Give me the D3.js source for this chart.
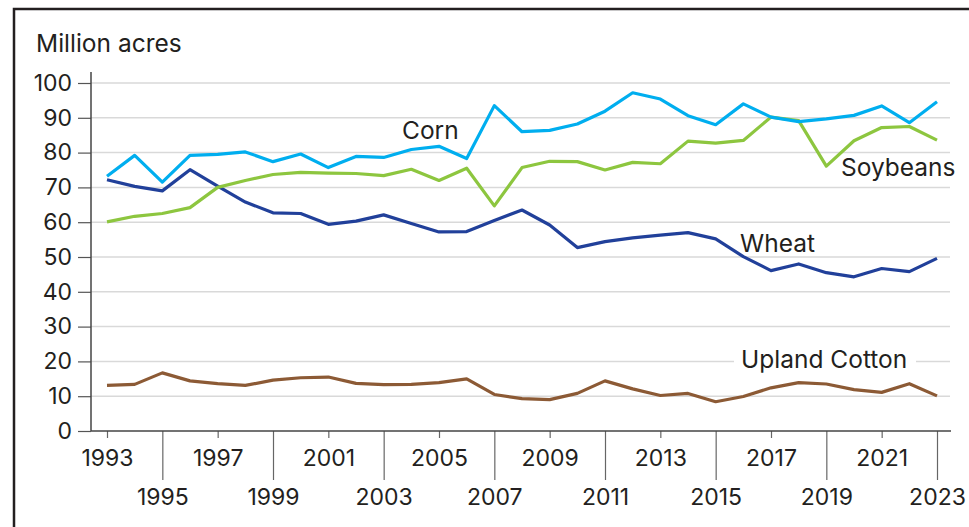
<!DOCTYPE html>
<head>
    <meta charset="utf-8">
    <style>
        body { margin: 0; background: #fff; }
        text { font-family: "Inter", "Roboto", sans-serif; fill: #231f20; }
    </style>
</head>
<body>
    <script src="https://d3js.org/d3.v7.min.js"></script>
    <script>

        // data (million acres planted)
        var years = d3.range(1993, 2024);
        var corn = [73.2, 79.2, 71.5, 79.2, 79.5, 80.2, 77.4, 79.6, 75.7, 78.9, 78.6, 80.9, 81.8, 78.3, 93.5, 86.0,
                    86.4, 88.2, 91.9, 97.2, 95.4, 90.6, 88.0, 94.0, 90.2, 88.9, 89.7, 90.7, 93.4, 88.6, 94.6];
        var soybeans = [60.1, 61.7, 62.5, 64.2, 70.0, 72.0, 73.7, 74.3, 74.1, 74.0, 73.4, 75.2, 72.0, 75.5, 64.7, 75.7,
                    77.5, 77.4, 75.0, 77.2, 76.8, 83.3, 82.7, 83.5, 90.2, 89.2, 76.1, 83.4, 87.2, 87.5, 83.6];
        var wheat = [72.2, 70.3, 69.0, 75.1, 70.4, 65.8, 62.7, 62.5, 59.4, 60.3, 62.1, 59.6, 57.2, 57.3, 60.5, 63.5,
                    59.2, 52.7, 54.4, 55.5, 56.3, 57.0, 55.2, 50.1, 46.1, 48.0, 45.5, 44.3, 46.7, 45.8, 49.6];
        var cotton = [13.1, 13.4, 16.7, 14.4, 13.6, 13.1, 14.6, 15.3, 15.5, 13.7, 13.3, 13.4, 13.9, 15.0, 10.5, 9.3,
                    9.0, 10.8, 14.4, 12.1, 10.2, 10.8, 8.4, 9.9, 12.4, 13.9, 13.5, 11.9, 11.1, 13.6, 10.1];
        var yTicks = [0, 10, 20, 30, 40, 50, 60, 70, 80, 90, 100];
        var xTicks = d3.range(1993, 2024, 2);

        var width = 969, height = 527;
        var left = 91, right = 951, bottom = 431;

        var x = d3.scaleLinear().domain([1993, 2023]).range([107, 937]);
        var y = d3.scaleLinear().domain([0, 100]).range([431, 83]);

        var svg = d3.select("body").append("svg")
            .attr("width", width)
            .attr("height", height);

        // frame (top and left edges)
        svg.append("path")
            .attr("d", "M14,527V9H969")
            .attr("fill", "none")
            .attr("stroke", "#231f20")
            .attr("stroke-width", 2.5);

        // gridlines
        svg.append("g")
            .selectAll("line")
            .data(yTicks.filter(function(d) { return d > 0; }))
            .enter().append("line")
            .attr("x1", left)
            .attr("x2", right - 1)
            .attr("y1", function(d) { return y(d); })
            .attr("y2", function(d) { return y(d); })
            .attr("stroke", "#d9d9d9")
            .attr("stroke-width", 1.5);

        // y axis
        var yAxis = svg.append("g")
            .attr("transform", "translate(" + left + ",0)")
            .call(d3.axisLeft(y).tickValues(yTicks).tickSize(13).tickSizeOuter(0).tickPadding(6));
        yAxis.select(".domain").remove();
        yAxis.selectAll(".tick line").attr("stroke", "#555").attr("stroke-width", 1.2);
        yAxis.selectAll("text").style("font-size", "23px").attr("fill", "#231f20");
        svg.append("line")
            .attr("x1", left).attr("x2", left)
            .attr("y1", 72).attr("y2", bottom)
            .attr("stroke", "#444").attr("stroke-width", 1.5);

        // x axis
        var xAxis = svg.append("g")
            .attr("transform", "translate(0," + bottom + ")")
            .call(d3.axisBottom(x).tickValues(xTicks).tickFormat(d3.format("d")).tickSize(7).tickSizeOuter(0));
        xAxis.select(".domain").remove();
        xAxis.selectAll(".tick line").attr("stroke", "#666").attr("stroke-width", 1.2);
        xAxis.selectAll(".tick")
            .filter(function(d) { return (d - 1993) % 4 === 2; })
            .select("line").attr("y2", 49);
        xAxis.selectAll("text")
            .style("font-size", "23px")
            .attr("fill", "#231f20")
            .attr("dy", null)
            .attr("y", function(d) { return (d - 1993) % 4 === 2 ? 74 : 35; });
        svg.append("line")
            .attr("x1", left).attr("x2", right)
            .attr("y1", bottom).attr("y2", bottom)
            .attr("stroke", "#444").attr("stroke-width", 1.5);

        // unit label
        svg.append("text")
            .attr("x", 36)
            .attr("y", 52)
            .style("font-size", "24.5px")
            .text("Million acres");

        // lines
        var series = [
            {name: "Corn", values: corn, color: "#00aeef"},
            {name: "Soybeans", values: soybeans, color: "#8dc63f"},
            {name: "Wheat", values: wheat, color: "#21409a"},
            {name: "Upland Cotton", values: cotton, color: "#8c5a35"}
        ];

        var line = d3.line()
            .x(function(d, i) { return x(years[i]); })
            .y(function(d) { return y(d); });

        // draw cotton, wheat, soybeans, then corn on top
        series.slice().reverse().forEach(function(s) {
            svg.append("path")
                .datum(s.values)
                .attr("fill", "none")
                .attr("stroke", s.color)
                .attr("stroke-width", 3.2)
                .attr("stroke-linejoin", "round")
                .attr("d", line);
        });

        // series labels
        var labels = [
            {text: "Corn", x: 402, y: 139},
            {text: "Soybeans", x: 841, y: 176},
            {text: "Wheat", x: 740, y: 252},
            {text: "Upland Cotton", x: 741, y: 368}
        ];

        // white box behind the cotton label to break the gridline
        svg.append("rect")
            .attr("x", 734)
            .attr("y", 350)
            .attr("width", 182)
            .attr("height", 22)
            .attr("fill", "#fff");

        svg.selectAll(".series-label")
            .data(labels)
            .enter().append("text")
            .attr("class", "series-label")
            .attr("x", function(d) { return d.x; })
            .attr("y", function(d) { return d.y; })
            .style("font-size", "24.5px")
            .text(function(d) { return d.text; });

    </script>
</body>
